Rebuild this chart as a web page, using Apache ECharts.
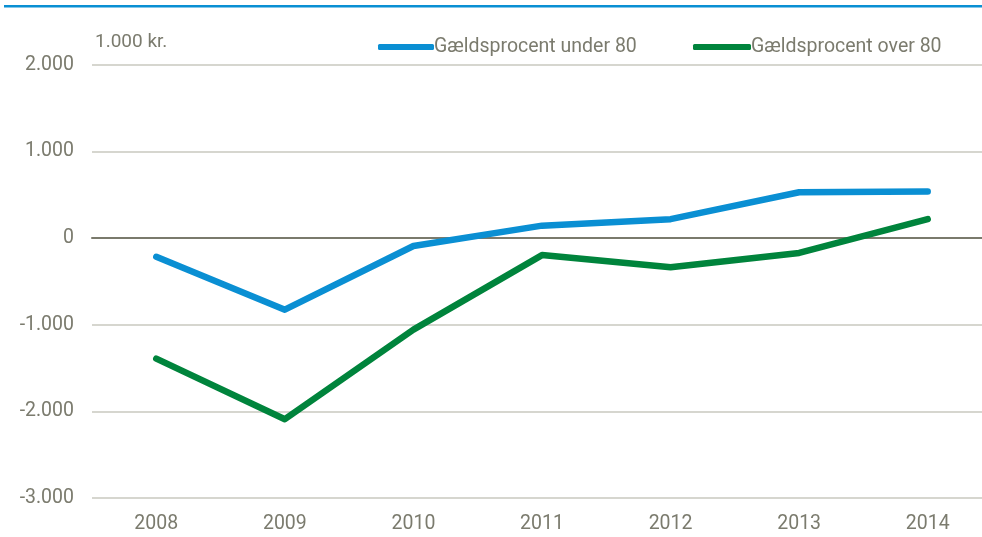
<!DOCTYPE html>
<html><head><meta charset="utf-8">
<script src="https://cdn.jsdelivr.net/npm/echarts@6/dist/echarts.min.js"></script>
<style>html,body{margin:0;padding:0;background:#fff;overflow:hidden;width:982px;height:537px}#c{width:1000px;height:537px}</style>
</head><body><div id="c"></div>
<script>
const categories = ['2008','2009','2010','2011','2012','2013','2014'];
const seriesNames = ['Gældsprocent under 80','Gældsprocent over 80'];
const under80 = [-215, -825, -90, 145, 220, 530, 540];
const over80 = [-1390, -2090, -1055, -195, -335, -170, 220];
const yTicks = [-3000, -2000, -1000, 0, 1000, 2000];
const unitLabel = '1.000 kr.';

const FONT = '"Liberation Sans Narrow","Arial Narrow",Roboto,sans-serif';
const TXT = '#7b7b6e';
const fmt = v => {
  const s = Math.abs(v).toString().replace(/\B(?=(\d{3})+(?!\d))/g, '.');
  return (v < 0 ? '-' : '') + s;
};
const chart = echarts.init(document.getElementById('c'), null, {renderer: 'canvas'});
chart.setOption({
  animation: false,
  backgroundColor: '#fff',
  grid: {left: 92, width: 900, top: 65, height: 433},
  graphic: [
    {type: 'rect', shape: {x: 4, y: 5, width: 996, height: 2.5}, style: {fill: '#0a8fd3'}},
    {type: 'text', left: 95, top: 33, style: {text: unitLabel, font: '19px ' + FONT, fill: TXT}}
  ],
  legend: [
    {data: [seriesNames[0]], left: 373, top: 32, itemWidth: 56, itemHeight: 6, icon: 'roundRect',
     textStyle: {fontFamily: FONT, fontSize: 19.5, color: TXT, padding: [0, 0, 0, -5]}},
    {data: [seriesNames[1]], left: 688, top: 32, itemWidth: 58, itemHeight: 6, icon: 'roundRect',
     textStyle: {fontFamily: FONT, fontSize: 19.5, color: TXT, padding: [0, 0, 0, -5]}}
  ],
  xAxis: {
    type: 'category', data: categories, boundaryGap: true,
    axisLine: {onZero: true, lineStyle: {color: '#7a7a6c', width: 2}},
    axisTick: {show: false},
    axisLabel: {fontFamily: FONT, fontSize: 19.5, color: TXT, margin: 16}
  },
  yAxis: {
    type: 'value', min: -3000, max: 2000, interval: 1000,
    axisLine: {show: false}, axisTick: {show: false},
    splitLine: {lineStyle: {color: '#c9c9bf', width: 1.5}},
    axisLabel: {fontFamily: FONT, fontSize: 19.5, color: TXT, margin: 18,
      formatter: v => yTicks.includes(v) ? fmt(v) : ''}
  },
  series: [
    {name: seriesNames[0], type: 'line', data: under80, symbol: 'none', color: '#0a8fd3',
     lineStyle: {width: 6.5, color: '#0a8fd3', cap: 'round', join: 'round'}},
    {name: seriesNames[1], type: 'line', data: over80, symbol: 'none', color: '#00843c',
     lineStyle: {width: 6.5, color: '#00843c', cap: 'round', join: 'round'}}
  ]
});
</script></body></html>
